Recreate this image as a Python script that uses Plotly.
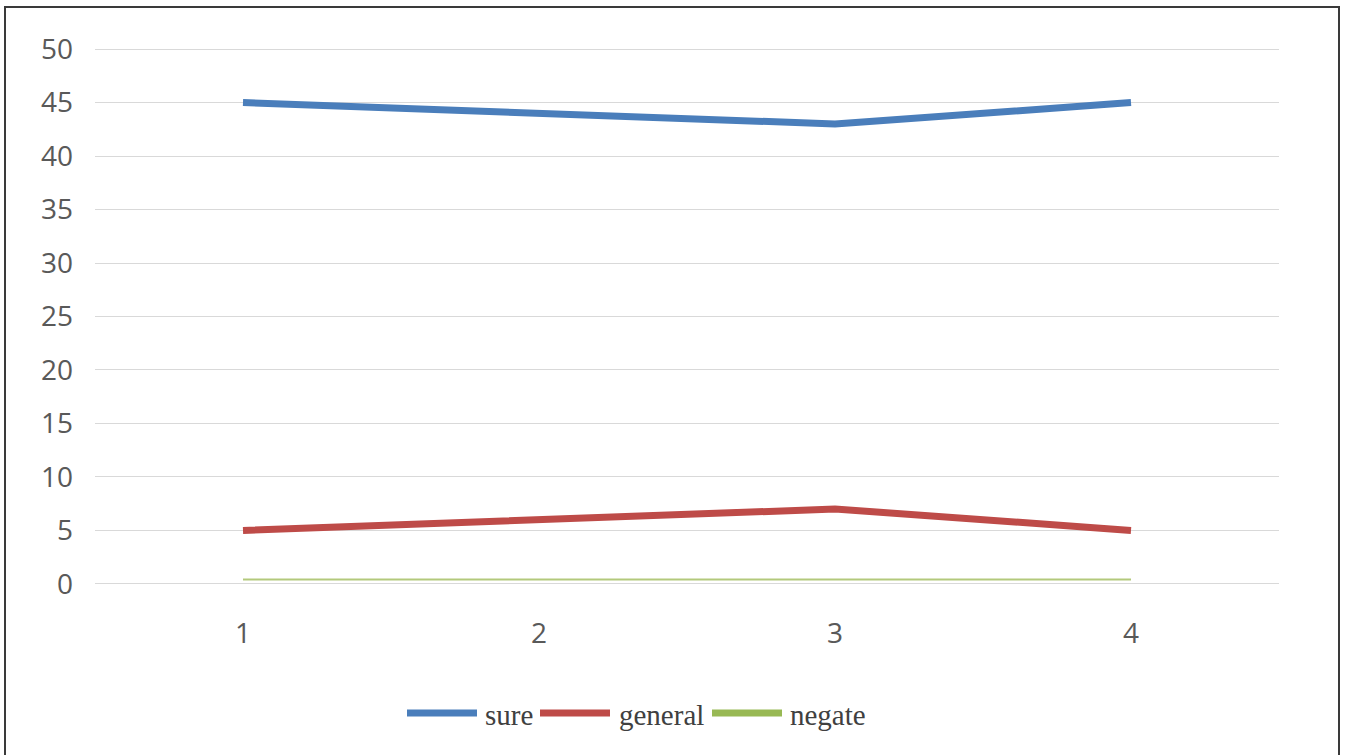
import plotly.graph_objects as go

# Data
categories = ["1", "2", "3", "4"]
series_names = ["sure", "general", "negate"]
sure = [45, 44, 43, 45]
general = [5, 6, 7, 5]
negate = [0.4, 0.4, 0.4, 0.4]
y_ticks = [0, 5, 10, 15, 20, 25, 30, 35, 40, 45, 50]

colors = ["#4a7ebb", "#be4b48", "#98b954"]
widths = [7, 7, 2]

W, H = 1345, 755
L, R, T, B = 95, 66, 47, 169
PW, PH = W - L - R, H - T - B


def px_x(x):
    return (x - L) / PW


def px_y(y):
    return (H - B - y) / PH


fig = go.Figure()
line_colors = [colors[0], colors[1], "#b3c97c"]
for name, vals, c, w in zip(series_names, [sure, general, negate], line_colors, widths):
    fig.add_trace(go.Scatter(
        x=categories, y=vals, mode="lines", name=name,
        line=dict(color=c, width=w), showlegend=False,
    ))

shapes = []
annotations = []

# Outer frame
shapes.append(dict(type="rect", xref="paper", yref="paper",
                   x0=px_x(5), x1=px_x(1339), y0=px_y(758), y1=px_y(7),
                   line=dict(color="#3a3a3a", width=2), fillcolor="rgba(0,0,0,0)", layer="below"))

# Legend drawn below the plot
legend_items = [(407, 477, 483), (540, 610, 617), (712, 782, 788)]
ly = 713
for (x0, x1, tx), name, c in zip(legend_items, series_names, colors):
    shapes.append(dict(type="line", xref="paper", yref="paper",
                       x0=px_x(x0), x1=px_x(x1), y0=px_y(ly), y1=px_y(ly),
                       line=dict(color=c, width=7)))
    annotations.append(dict(xref="paper", yref="paper", x=px_x(tx), y=px_y(ly + 2),
                            text=name, showarrow=False, xanchor="left", yanchor="middle",
                            font=dict(family="Liberation Serif", size=29, color="#404040")))

fig.update_layout(
    width=W, height=H,
    margin=dict(l=L, r=R, t=T, b=B),
    paper_bgcolor="white", plot_bgcolor="white",
    font=dict(family="Open Sans", size=28, color="#595959"),
    shapes=shapes, annotations=annotations,
    xaxis=dict(type="category", range=[-0.5, 3.5], showgrid=False, showline=False,
               zeroline=False, ticks="", ticklabelstandoff=28,
               tickfont=dict(size=28, color="#595959")),
    yaxis=dict(range=[-0.2, 50.2], tickvals=y_ticks, showgrid=True, gridcolor="#d9d9d9",
               gridwidth=1, zeroline=False, showline=False, ticks="",
               ticklabelstandoff=21, tickfont=dict(size=28, color="#595959")),
)

fig.write_html("out.html")
